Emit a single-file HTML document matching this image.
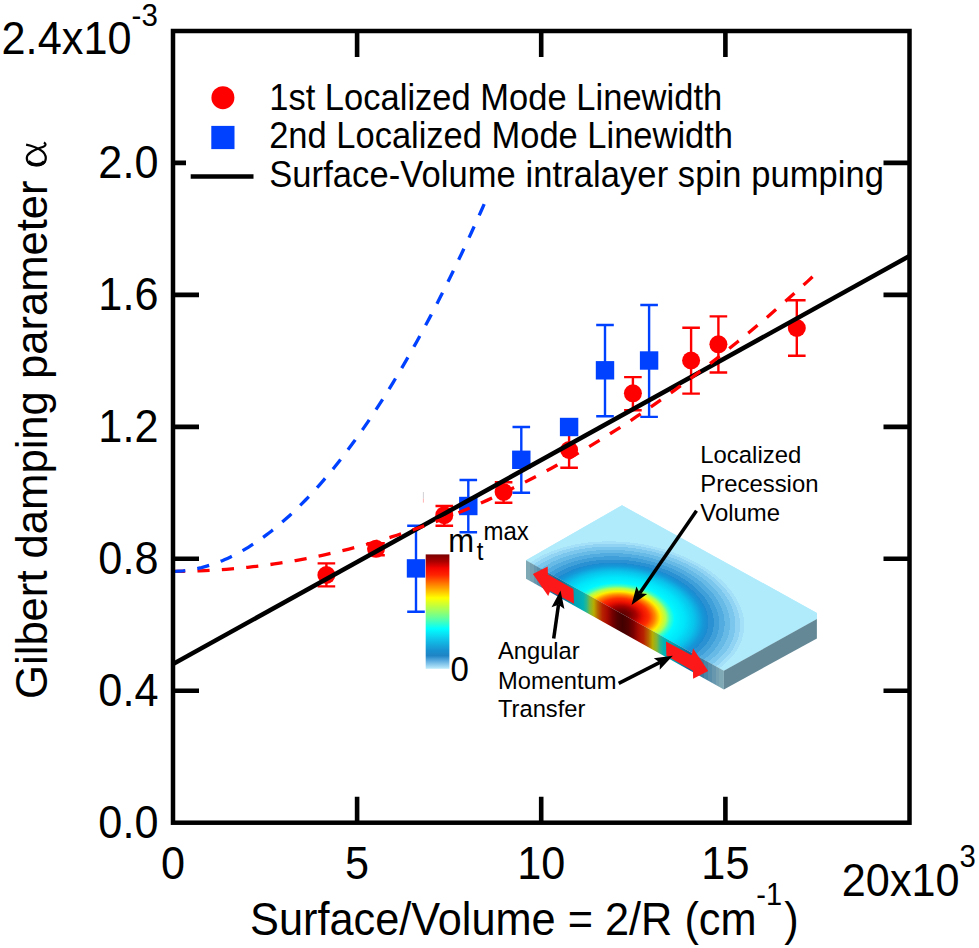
<!DOCTYPE html>
<html><head><meta charset="utf-8"><title>Gilbert damping</title>
<style>html,body{margin:0;padding:0;background:#fff}svg{display:block}text{font-family:"Liberation Sans",sans-serif}</style></head>
<body>
<svg width="979" height="948" viewBox="0 0 979 948">
<defs>
<clipPath id="plot"><rect x="173.0" y="31.0" width="736.5" height="791.7"/></clipPath>
<linearGradient id="cbar" x1="0" y1="0" x2="0" y2="1"><stop offset="0.000" stop-color="#7a0000"/><stop offset="0.060" stop-color="#a80000"/><stop offset="0.120" stop-color="#f40400"/><stop offset="0.180" stop-color="#ff2400"/><stop offset="0.270" stop-color="#ff8800"/><stop offset="0.380" stop-color="#ffff00"/><stop offset="0.490" stop-color="#a0ff60"/><stop offset="0.575" stop-color="#50ffb0"/><stop offset="0.650" stop-color="#00ffff"/><stop offset="0.750" stop-color="#10c0e8"/><stop offset="0.840" stop-color="#1890d0"/><stop offset="0.885" stop-color="#1e84c4"/><stop offset="0.930" stop-color="#5cace0"/><stop offset="1.000" stop-color="#c0ecfc"/></linearGradient>
<radialGradient id="mode" gradientUnits="userSpaceOnUse" gradientTransform="matrix(1.0600 0 -0.1018 0.9500 -0.0585 0)" cx="1.000" cy="0" fx="0.975" fy="0" r="1.000"><stop offset="0.0000" stop-color="#5c0000"/><stop offset="0.0500" stop-color="#740000"/><stop offset="0.1000" stop-color="#a80000"/><stop offset="0.1500" stop-color="#ec1000"/><stop offset="0.1950" stop-color="#ff3000"/><stop offset="0.2400" stop-color="#ff8800"/><stop offset="0.2800" stop-color="#fff000"/><stop offset="0.3200" stop-color="#b0ff50"/><stop offset="0.3500" stop-color="#40ffc0"/><stop offset="0.3850" stop-color="#00f8ff"/><stop offset="0.4600" stop-color="#00e4fa"/><stop offset="0.5300" stop-color="#08c4ec"/><stop offset="0.5950" stop-color="#1498d8"/><stop offset="0.6350" stop-color="#1c8ad0"/><stop offset="0.6350" stop-color="#2a92d3"/><stop offset="0.6750" stop-color="#2a92d3"/><stop offset="0.6750" stop-color="#3e9fd9"/><stop offset="0.7150" stop-color="#3e9fd9"/><stop offset="0.7150" stop-color="#53acdf"/><stop offset="0.7550" stop-color="#53acdf"/><stop offset="0.7550" stop-color="#67b9e6"/><stop offset="0.7950" stop-color="#67b9e6"/><stop offset="0.7950" stop-color="#7bc6ec"/><stop offset="0.8350" stop-color="#7bc6ec"/><stop offset="0.8350" stop-color="#90d3f2"/><stop offset="0.8700" stop-color="#90d3f2"/><stop offset="0.8700" stop-color="#a4e0f8"/><stop offset="0.9000" stop-color="#a4e0f8"/><stop offset="0.9000" stop-color="#b0ebfc"/><stop offset="1.0000" stop-color="#b0ebfc"/></radialGradient>
<linearGradient id="front" gradientUnits="userSpaceOnUse" x1="526" y1="0" x2="723.9" y2="0"><stop offset="0.0000" stop-color="#7ea9b5"/><stop offset="0.0224" stop-color="#7ea9b5"/><stop offset="0.0224" stop-color="#76a1b2"/><stop offset="0.0379" stop-color="#76a1b2"/><stop offset="0.0379" stop-color="#6797ae"/><stop offset="0.0560" stop-color="#6797ae"/><stop offset="0.0560" stop-color="#588ea9"/><stop offset="0.0767" stop-color="#588ea9"/><stop offset="0.0767" stop-color="#4a85a5"/><stop offset="0.0974" stop-color="#4a85a5"/><stop offset="0.0974" stop-color="#3b7ba0"/><stop offset="0.1180" stop-color="#3b7ba0"/><stop offset="0.1180" stop-color="#2c729c"/><stop offset="0.1387" stop-color="#2c729c"/><stop offset="0.1387" stop-color="#1e6997"/><stop offset="0.1594" stop-color="#1e6997"/><stop offset="0.1594" stop-color="#146395"/><stop offset="0.1800" stop-color="#0e6d9b"/><stop offset="0.2136" stop-color="#058da9"/><stop offset="0.2498" stop-color="#00a4b4"/><stop offset="0.2886" stop-color="#00b2b7"/><stop offset="0.3066" stop-color="#2eb78a"/><stop offset="0.3221" stop-color="#7eb739"/><stop offset="0.3428" stop-color="#b7ac00"/><stop offset="0.3635" stop-color="#b76100"/><stop offset="0.3867" stop-color="#b72200"/><stop offset="0.4100" stop-color="#a90b00"/><stop offset="0.4358" stop-color="#780000"/><stop offset="0.4617" stop-color="#530000"/><stop offset="0.4875" stop-color="#420000"/><stop offset="0.4875" stop-color="#420000"/><stop offset="0.5147" stop-color="#530000"/><stop offset="0.5418" stop-color="#780000"/><stop offset="0.5690" stop-color="#a90b00"/><stop offset="0.5934" stop-color="#b72200"/><stop offset="0.6179" stop-color="#b76100"/><stop offset="0.6396" stop-color="#b7ac00"/><stop offset="0.6613" stop-color="#7eb739"/><stop offset="0.6776" stop-color="#2eb78a"/><stop offset="0.6967" stop-color="#00b2b7"/><stop offset="0.7374" stop-color="#00a4b4"/><stop offset="0.7754" stop-color="#058da9"/><stop offset="0.8107" stop-color="#0e6d9b"/><stop offset="0.8325" stop-color="#146395"/><stop offset="0.8325" stop-color="#1e6997"/><stop offset="0.8542" stop-color="#1e6997"/><stop offset="0.8542" stop-color="#2c729c"/><stop offset="0.8759" stop-color="#2c729c"/><stop offset="0.8759" stop-color="#3b7ba0"/><stop offset="0.8977" stop-color="#3b7ba0"/><stop offset="0.8977" stop-color="#4a85a5"/><stop offset="0.9194" stop-color="#4a85a5"/><stop offset="0.9194" stop-color="#588ea9"/><stop offset="0.9411" stop-color="#588ea9"/><stop offset="0.9411" stop-color="#6797ae"/><stop offset="0.9601" stop-color="#6797ae"/><stop offset="0.9601" stop-color="#76a1b2"/><stop offset="0.9764" stop-color="#76a1b2"/><stop offset="0.9764" stop-color="#7ea9b5"/><stop offset="1.0000" stop-color="#7ea9b5"/></linearGradient>
</defs>
<rect width="979" height="948" fill="#fff"/>
<g clip-path="url(#plot)">
<path d="M326.4 563.4V586.4M317.6 563.4H335.2M317.6 586.4H335.2" stroke="#ff0000" stroke-width="2.4" fill="none"/>
<circle cx="326.4" cy="575.0" r="9" fill="#ff0000"/>
<path d="M376.0 543.3V555.2M367.2 543.3H384.8M367.2 555.2H384.8" stroke="#ff0000" stroke-width="2.4" fill="none"/>
<circle cx="376.0" cy="548.8" r="9" fill="#ff0000"/>
<path d="M444.3 506.0V525.7M435.5 506.0H453.1M435.5 525.7H453.1" stroke="#ff0000" stroke-width="2.4" fill="none"/>
<circle cx="444.3" cy="515.2" r="9" fill="#ff0000"/>
<path d="M503.6 482.2V502.8M494.8 482.2H512.4M494.8 502.8H512.4" stroke="#ff0000" stroke-width="2.4" fill="none"/>
<circle cx="503.6" cy="492.0" r="9" fill="#ff0000"/>
<path d="M569.1 432.0V467.8M560.3 432.0H577.9M560.3 467.8H577.9" stroke="#ff0000" stroke-width="2.4" fill="none"/>
<circle cx="569.1" cy="450.0" r="9" fill="#ff0000"/>
<path d="M632.9 377.1V410.2M624.1 377.1H641.7M624.1 410.2H641.7" stroke="#ff0000" stroke-width="2.4" fill="none"/>
<circle cx="632.9" cy="393.3" r="9" fill="#ff0000"/>
<path d="M691.1 327.7V393.6M682.3 327.7H699.9M682.3 393.6H699.9" stroke="#ff0000" stroke-width="2.4" fill="none"/>
<circle cx="691.1" cy="360.5" r="9" fill="#ff0000"/>
<path d="M718.4 316.4V372.5M709.6 316.4H727.2M709.6 372.5H727.2" stroke="#ff0000" stroke-width="2.4" fill="none"/>
<circle cx="718.4" cy="344.3" r="9" fill="#ff0000"/>
<path d="M796.8 300.3V355.8M788.0 300.3H805.6M788.0 355.8H805.6" stroke="#ff0000" stroke-width="2.4" fill="none"/>
<circle cx="796.8" cy="328.0" r="9" fill="#ff0000"/>
<path d="M416.0 525.7V611.7M407.2 525.7H424.8M407.2 611.7H424.8" stroke="#0040ff" stroke-width="2.4" fill="none"/>
<rect x="406.8" y="559.2" width="18.4" height="18.4" fill="#0040ff"/>
<path d="M468.3 480.0V532.3M459.5 480.0H477.1M459.5 532.3H477.1" stroke="#0040ff" stroke-width="2.4" fill="none"/>
<rect x="459.1" y="496.8" width="18.4" height="18.4" fill="#0040ff"/>
<path d="M521.3 427.0V492.7M512.5 427.0H530.1M512.5 492.7H530.1" stroke="#0040ff" stroke-width="2.4" fill="none"/>
<rect x="512.1" y="450.6" width="18.4" height="18.4" fill="#0040ff"/>
<rect x="559.9" y="417.8" width="18.4" height="18.4" fill="#0040ff"/>
<path d="M605.0 325.0V416.3M596.2 325.0H613.8M596.2 416.3H613.8" stroke="#0040ff" stroke-width="2.4" fill="none"/>
<rect x="595.8" y="361.1" width="18.4" height="18.4" fill="#0040ff"/>
<path d="M649.1 305.0V416.9M640.3 305.0H657.9M640.3 416.9H657.9" stroke="#0040ff" stroke-width="2.4" fill="none"/>
<rect x="639.9" y="351.3" width="18.4" height="18.4" fill="#0040ff"/>
<line x1="173" y1="664" x2="909.5" y2="256" stroke="#000" stroke-width="4.5"/>
<polyline points="173.00,571.34 178.33,571.31 183.66,571.25 188.99,571.15 194.32,571.01 199.65,570.82 204.98,570.60 210.31,570.33 215.64,570.03 220.97,569.68 226.30,569.29 231.63,568.86 236.97,568.39 242.30,567.88 247.63,567.33 252.96,566.73 258.29,566.10 263.62,565.42 268.95,564.71 274.28,563.95 279.61,563.15 284.94,562.31 290.27,561.43 295.60,560.51 300.93,559.55 306.26,558.55 311.59,557.51 316.92,556.42 322.25,555.30 327.58,554.13 332.91,552.92 338.24,551.67 343.57,550.39 348.90,549.06 354.23,547.68 359.56,546.27 364.90,544.82 370.23,543.33 375.56,541.79 380.89,540.22 386.22,538.60 391.55,536.94 396.88,535.25 402.21,533.51 407.54,531.73 412.87,529.91 418.20,528.04 423.53,526.14 428.86,524.20 434.19,522.21 439.52,520.19 444.85,518.12 450.18,516.01 455.51,513.87 460.84,511.68 466.17,509.45 471.50,507.18 476.83,504.86 482.16,502.51 487.49,500.12 492.83,497.68 498.16,495.21 503.49,492.69 508.82,490.13 514.15,487.54 519.48,484.90 524.81,482.22 530.14,479.50 535.47,476.73 540.80,473.93 546.13,471.09 551.46,468.20 556.79,465.28 562.12,462.31 567.45,459.30 572.78,456.26 578.11,453.17 583.44,450.04 588.77,446.86 594.10,443.65 599.43,440.40 604.76,437.11 610.09,433.77 615.42,430.40 620.76,426.98 626.09,423.52 631.42,420.02 636.75,416.48 642.08,412.90 647.41,409.28 652.74,405.62 658.07,401.92 663.40,398.17 668.73,394.39 674.06,390.56 679.39,386.70 684.72,382.79 690.05,378.84 695.38,374.85 700.71,370.82 706.04,366.75 711.37,362.64 716.70,358.48 722.03,354.29 727.36,350.05 732.69,345.78 738.02,341.46 743.35,337.10 748.69,332.70 754.02,328.27 759.35,323.78 764.68,319.26 770.01,314.70 775.34,310.10 780.67,305.45 786.00,300.77 791.33,296.04 796.66,291.28 801.99,286.47 807.32,281.62 812.65,276.73" fill="none" stroke="#ff0000" stroke-width="3.3" stroke-dasharray="12.2 12.24"/>
<polyline points="173.00,571.34 175.59,571.30 178.19,571.19 180.78,571.03 183.38,570.80 185.97,570.51 188.56,570.17 191.16,569.77 193.75,569.31 196.35,568.79 198.94,568.22 201.54,567.60 204.13,566.92 206.72,566.18 209.32,565.40 211.91,564.55 214.51,563.66 217.10,562.71 219.69,561.71 222.29,560.66 224.88,559.56 227.48,558.40 230.07,557.19 232.66,555.93 235.26,554.62 237.85,553.26 240.45,551.84 243.04,550.38 245.64,548.86 248.23,547.29 250.82,545.68 253.42,544.01 256.01,542.29 258.61,540.52 261.20,538.71 263.79,536.84 266.39,534.92 268.98,532.96 271.58,530.94 274.17,528.87 276.76,526.76 279.36,524.59 281.95,522.38 284.55,520.12 287.14,517.81 289.74,515.45 292.33,513.04 294.92,510.58 297.52,508.07 300.11,505.52 302.71,502.92 305.30,500.27 307.89,497.57 310.49,494.82 313.08,492.02 315.68,489.18 318.27,486.29 320.86,483.35 323.46,480.36 326.05,477.32 328.65,474.24 331.24,471.11 333.84,467.93 336.43,464.70 339.02,461.43 341.62,458.11 344.21,454.74 346.81,451.33 349.40,447.86 351.99,444.35 354.59,440.80 357.18,437.19 359.78,433.54 362.37,429.84 364.96,426.10 367.56,422.31 370.15,418.47 372.75,414.58 375.34,410.65 377.94,406.67 380.53,402.65 383.12,398.57 385.72,394.46 388.31,390.29 390.91,386.08 393.50,381.82 396.09,377.52 398.69,373.17 401.28,368.77 403.88,364.33 406.47,359.84 409.06,355.31 411.66,350.73 414.25,346.10 416.85,341.43 419.44,336.71 422.04,331.94 424.63,327.13 427.22,322.27 429.82,317.37 432.41,312.42 435.01,307.43 437.60,302.39 440.19,297.30 442.79,292.17 445.38,287.00 447.98,281.77 450.57,276.51 453.16,271.19 455.76,265.83 458.35,260.43 460.95,254.98 463.54,249.49 466.14,243.95 468.73,238.36 471.32,232.73 473.92,227.05 476.51,221.33 479.11,215.57 481.70,209.76 484.29,203.90" fill="none" stroke="#0040ff" stroke-width="3.3" stroke-dasharray="12.3 12.17"/>
</g>
<path d="M357.1 31.0v26.0M357.1 822.7v-26.0M541.2 31.0v26.0M541.2 822.7v-26.0M725.4 31.0v26.0M725.4 822.7v-26.0M173.0 690.8h26.0M909.5 690.8h-26.0M173.0 558.8h26.0M909.5 558.8h-26.0M173.0 426.9h26.0M909.5 426.9h-26.0M173.0 294.9h26.0M909.5 294.9h-26.0M173.0 162.9h26.0M909.5 162.9h-26.0" stroke="#000" stroke-width="4.6" fill="none"/>
<rect x="186" y="72" width="697" height="131" fill="#fff"/>
<circle cx="222.9" cy="97.7" r="11.5" fill="#ff0000"/>
<rect x="211.3" y="125.9" width="23.2" height="23.2" fill="#0040ff"/>
<line x1="190.7" y1="176.5" x2="253.5" y2="176.5" stroke="#000" stroke-width="4.4"/>
<g font-family="Liberation Sans, sans-serif" fill="#000">
<text transform="translate(269.20 109.60) scale(1 1.050)" font-size="34.5" textLength="453" lengthAdjust="spacing">1st Localized Mode Linewidth</text>
<text transform="translate(269.20 147.90) scale(1 1.050)" font-size="34.5" textLength="463.8" lengthAdjust="spacing">2nd Localized Mode Linewidth</text>
<text transform="translate(269.20 187.30) scale(1 1.050)" font-size="34.5" textLength="614.8" lengthAdjust="spacing">Surface-Volume intralayer spin pumping</text>
</g>
<rect x="173.0" y="31.0" width="736.5" height="791.7" fill="none" stroke="#000" stroke-width="4.5"/>
<g font-family="Liberation Sans, sans-serif" fill="#000">
<text transform="translate(158.40 837.70) scale(1 1.070)" font-size="43.2" text-anchor="end">0.0</text>
<text transform="translate(158.40 705.75) scale(1 1.070)" font-size="43.2" text-anchor="end">0.4</text>
<text transform="translate(158.40 573.80) scale(1 1.070)" font-size="43.2" text-anchor="end">0.8</text>
<text transform="translate(158.40 441.85) scale(1 1.070)" font-size="43.2" text-anchor="end">1.2</text>
<text transform="translate(158.40 309.90) scale(1 1.070)" font-size="43.2" text-anchor="end">1.6</text>
<text transform="translate(158.40 177.95) scale(1 1.070)" font-size="43.2" text-anchor="end">2.0</text>
<text transform="translate(1.50 54.20) scale(1 1.070)" font-size="43.2" textLength="130" lengthAdjust="spacing">2.4x10</text>
<text transform="translate(131.60 25.50) scale(1 1.070)" font-size="29.5">-3</text>
<text transform="translate(173.00 878.90) scale(1 1.070)" font-size="43.2" text-anchor="middle">0</text>
<text transform="translate(357.12 878.90) scale(1 1.070)" font-size="43.2" text-anchor="middle">5</text>
<text transform="translate(541.25 878.90) scale(1 1.070)" font-size="43.2" text-anchor="middle">10</text>
<text transform="translate(725.38 878.90) scale(1 1.070)" font-size="43.2" text-anchor="middle">15</text>
<text transform="translate(959.50 896.00) scale(1 1.070)" font-size="43.2" text-anchor="end">20x10</text>
<text transform="translate(959.50 866.80) scale(1 1.070)" font-size="29.3">3</text>
</g>
<g font-family="Liberation Sans, sans-serif" fill="#000"><text transform="translate(250.10 935.00) scale(1 1.070)" font-size="43.3">Surface/Volume = 2/R (cm<tspan font-size="29" dx="-0.3" dy="-27.8">-1</tspan><tspan dx="2.2" dy="27.8">)</tspan></text></g>
<text font-family="Liberation Sans, sans-serif" font-size="43.6" transform="translate(46.5 698.9) rotate(-90)">Gilbert damping parameter</text>
<g transform="translate(46.9 166.9) rotate(-90)" fill="none" stroke="#000" stroke-linecap="butt" stroke-linejoin="round"><path d="M22.3 -20.8C21 -15 17.5 -1.1 8.8 -1.1C3.8 -1.1 1.6 -5.5 1.6 -10.5C1.6 -15.5 3.8 -20.1 8.8 -20.1C15.5 -20.1 18.5 -8 20.5 -3C21.3 -1 23 -0.6 24.4 -3" stroke-width="2.2"/><path d="M5.5 -2.5C2.8 -4.5 2.3 -7.5 2.3 -10.5C2.3 -13.5 2.8 -16.5 5.5 -18.6" stroke-width="3.4"/></g>
<path d="M423.4 492V498.6" stroke="#c4c4cc" stroke-width="0.8"/><path d="M423.4 498.6V502.6" stroke="#ffa0a0" stroke-width="0.8"/>
<rect x="425.7" y="554.4" width="23.7" height="114.4" fill="url(#cbar)"/>
<g font-family="Liberation Sans, sans-serif" fill="#000"><text transform="translate(448.30 552.00) scale(1 1.070)" font-size="31">m<tspan font-size="24" dx="2.7" dy="7.5">t</tspan><tspan font-size="24" dy="-19.1">max</tspan></text></g>
<g font-family="Liberation Sans, sans-serif" fill="#000"><text transform="translate(450.60 680.60) scale(1 1.070)" font-size="33">0</text></g>
<clipPath id="topf"><polygon points="526.0,560.2 622.0,505.3 816.9,612.9 816.9,619.0 723.9,670.8"/></clipPath>
<g clip-path="url(#topf)"><rect x="500" y="480" width="340" height="220" fill="#b0ebfc"/><g transform="matrix(98.950 55.300 96.000 -54.900 526.00 560.20)"><rect x="-0.1" y="-0.1" width="2.3" height="1.3" fill="url(#mode)"/></g></g>
<polygon points="526.0,560.2 723.9,670.8 723.9,689.4 526.0,578.8" fill="url(#front)"/>
<polygon points="723.9,670.8 816.9,619.0 816.9,638.6 723.9,689.4" fill="#648896"/>
<polygon points="532.9,574.1 547.7,566.5 547.9,574.6 573.4,588.9 574,603.7 550.2,591 548.2,596.1" fill="#fc1818"/>
<polygon points="666,641.5 691.6,655.2 693.1,648.6 708.2,671.1 693.1,678.7 693,670.7 666.4,655.8" fill="#fc1818"/>
<line x1="696.5" y1="510.8" x2="639.7" y2="593.2" stroke="#000" stroke-width="3.5"/><polygon points="631.5,605.1 636.4,586.6 639.7,593.2 647.1,594.0" fill="#000"/>
<line x1="553.7" y1="638.4" x2="558.5" y2="604.8" stroke="#000" stroke-width="3.5"/><polygon points="560.5,590.4 564.4,609.1 558.5,604.8 551.5,607.3" fill="#000"/>
<line x1="618.7" y1="683.4" x2="659.9" y2="662.4" stroke="#000" stroke-width="3.5"/><polygon points="672.8,655.8 659.7,669.8 659.9,662.4 653.8,658.2" fill="#000"/>
<g font-family="Liberation Sans, sans-serif" fill="#000">
<text transform="translate(700.30 462.70) scale(1 1.000)" font-size="23.9">Localized</text>
<text transform="translate(700.30 491.60) scale(1 1.000)" font-size="23.9">Precession</text>
<text transform="translate(700.30 520.60) scale(1 1.000)" font-size="23.9">Volume</text>
<text transform="translate(498.00 659.30) scale(1 1.000)" font-size="23.7">Angular</text>
<text transform="translate(498.00 688.50) scale(1 1.000)" font-size="23.7">Momentum</text>
<text transform="translate(498.00 716.70) scale(1 1.000)" font-size="23.7">Transfer</text>
</g>
</svg>
</body></html>
